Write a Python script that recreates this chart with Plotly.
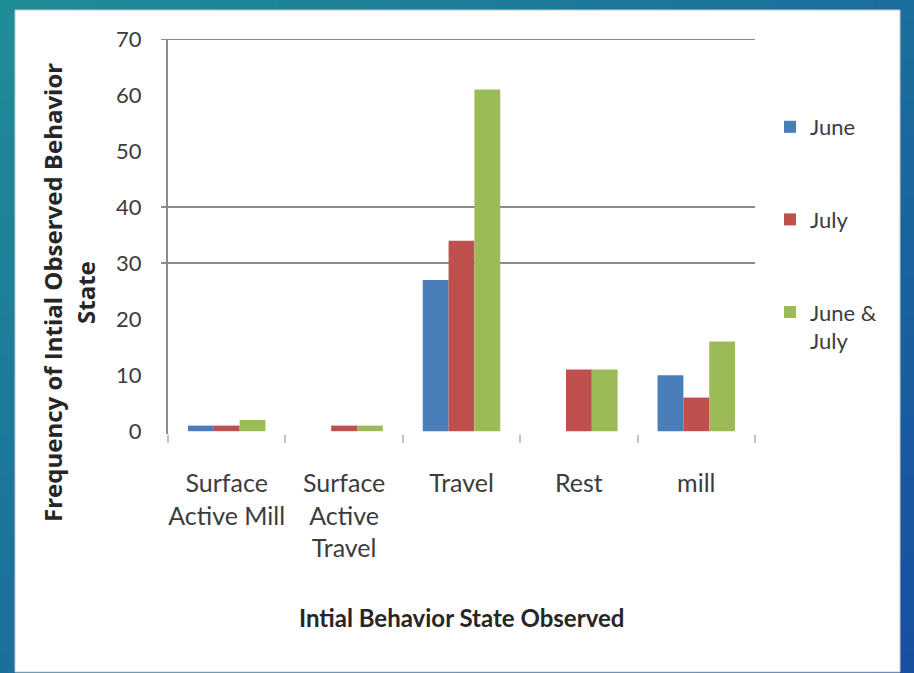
import plotly.graph_objects as go

# Behaviour-state counts per survey period
categories = ["Surface<br>Active Mill", "Surface<br>Active<br>Travel", "Travel", "Rest", "mill"]
june = [1, 0, 27, 0, 10]
july = [1, 1, 34, 11, 6]
june_july = [2, 1, 61, 11, 16]

series_names = ["June", "July", "June &<br>July"]
series_colors = ["#4a7ebb", "#c0504d", "#9bbb59"]

y_ticks = [0, 10, 20, 30, 40, 50, 60, 70]
gridline_values = [30, 40, 70]

W, H = 914, 673
L, R, T, B = 168, 159, 39, 239
PW, PH = W - L - R, H - T - B

FONT = "Lato, Carlito, Calibri, sans-serif"
TITLE_FONT = "Open Sans, Noto Sans, sans-serif"
TEXT = "#3c3c3c"


def px_x(px):
    return (px - L) / PW


def px_y(py):
    return (H - B - py) / PH


fig = go.Figure()
for name, vals, col in zip(series_names, [june, july, june_july], series_colors):
    fig.add_trace(go.Bar(x=categories, y=vals, name=name, marker_color=col,
                         marker_line_width=0, legendgroup=name))

shapes = []
# diagonal teal-to-blue backdrop built from small tiles
c0, c1 = (32, 142, 152), (24, 80, 162)
nx, ny = 46, 34
for i in range(nx):
    for j in range(ny):
        t = ((i + 0.5) / nx + (j + 0.5) / ny) / 2
        c = tuple(int(a + (b - a) * t) for a, b in zip(c0, c1))
        x0, x1 = i * W / nx, (i + 1) * W / nx
        y0, y1 = j * H / ny, (j + 1) * H / ny
        shapes.append(dict(type="rect", xref="paper", yref="paper", layer="below",
                           x0=px_x(x0), x1=px_x(x1 + 1), y0=px_y(y1 + 1), y1=px_y(y0),
                           fillcolor="rgb(%d,%d,%d)" % c, line_width=0))
# white slide panel
shapes.append(dict(type="rect", xref="paper", yref="paper", layer="below",
                   x0=px_x(15), x1=px_x(900), y0=px_y(672), y1=px_y(10),
                   fillcolor="white", line=dict(color="#c8c8c8", width=1)))
# horizontal gridlines
for g in gridline_values:
    shapes.append(dict(type="line", xref="paper", yref="y", layer="below",
                       x0=px_x(161), x1=1.0, y0=g, y1=g,
                       line=dict(color="#8a8a8a", width=2)))

annotations = [
    dict(text="<b>Intial Behavior State Observed</b>", xref="paper", yref="paper",
         x=0.5, y=px_y(617), xanchor="center", yanchor="middle", showarrow=False,
         font=dict(family=FONT, size=24, color="#262626")),
    dict(text="<b>Frequency of Intial Observed Behavior</b>", xref="paper", yref="paper",
         x=px_x(52), y=px_y(293), xanchor="center", yanchor="middle", showarrow=False,
         textangle=-90, font=dict(family=TITLE_FONT, size=24, color="#262626")),
    dict(text="<b>State</b>", xref="paper", yref="paper",
         x=px_x(85), y=px_y(293), xanchor="center", yanchor="middle", showarrow=False,
         textangle=-90, font=dict(family=TITLE_FONT, size=24, color="#262626")),
]

fig.update_layout(
    width=W, height=H,
    margin=dict(l=L, r=R, t=T, b=B, pad=0),
    paper_bgcolor="rgb(28,112,157)",
    plot_bgcolor="rgba(0,0,0,0)",
    barmode="group", bargap=0.34, bargroupgap=0,
    shapes=shapes, annotations=annotations,
    showlegend=True,
    legend=dict(x=px_x(770), y=px_y(106), xanchor="left", yanchor="top",
                font=dict(family=FONT, size=22, color=TEXT),
                tracegroupgap=61, valign="top", bgcolor="rgba(0,0,0,0)"),
    xaxis=dict(showline=False, showgrid=False, zeroline=False,
               ticks="outside", tickson="boundaries", ticklen=8, tickwidth=1.5,
               tickcolor="#c4c4c4", ticklabelstandoff=32, tickangle=0,
               tickfont=dict(family=FONT, size=25, color=TEXT)),
    yaxis=dict(range=[-0.5, 70], tickvals=y_ticks, showgrid=False, zeroline=False,
               showline=True, linecolor="#8a8a8a", linewidth=2, ticks="",
               ticklabelstandoff=20,
               tickfont=dict(family=FONT, size=22, color=TEXT)),
)

fig.write_html("out.html")
